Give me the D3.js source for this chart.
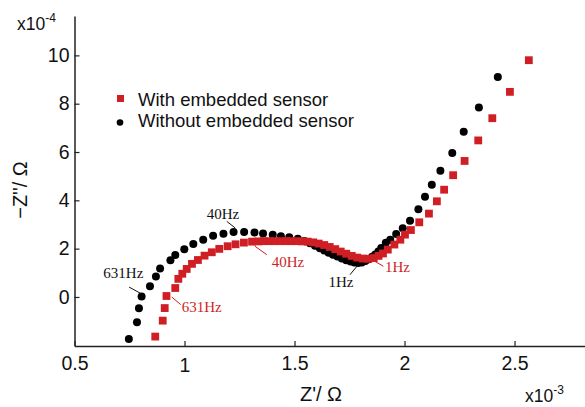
<!DOCTYPE html>
<html>
<head>
<meta charset="utf-8">
<script src="https://cdn.jsdelivr.net/npm/d3@7"></script>
<style>
  body { margin: 0; background: #fff; }
  svg { display: block; }
</style>
</head>
<body>
<svg id="chart" width="585" height="407"></svg>
<script>
// Z' in units of 1e-3 Ohm, -Z'' in units of 1e-4 Ohm
const withoutSensor = [
  [0.747,-1.74],[0.784,-1.05],[0.793,-0.47],[0.805,0.02],[0.843,0.44],[0.870,0.85],
  [0.889,1.18],[0.936,1.52],[0.958,1.74],[0.999,1.97],[1.040,2.19],[1.085,2.37],
  [1.130,2.53],[1.177,2.62],[1.223,2.69],[1.271,2.69],[1.318,2.67],[1.357,2.63],
  [1.401,2.57],[1.438,2.51],[1.476,2.47],[1.515,2.41],[1.545,2.32],[1.570,2.22],
  [1.593,2.12],[1.615,2.02],[1.635,1.92],[1.655,1.83],[1.675,1.75],[1.695,1.67],
  [1.715,1.59],[1.735,1.52],[1.755,1.47],[1.772,1.43],[1.789,1.41],[1.806,1.43],
  [1.822,1.49],[1.838,1.56],[1.853,1.66],[1.867,1.76],[1.881,1.88],[1.894,2.03],
  [1.915,2.24],[1.935,2.37],[1.962,2.61],[1.992,2.84],[2.025,3.15],[2.063,3.63],
  [2.093,4.15],[2.124,4.64],[2.163,5.22],[2.217,5.96],[2.269,6.84],[2.338,7.84],
  [2.424,9.11]
];
const withSensor = [
  [0.867,-1.64],[0.901,-0.98],[0.910,-0.46],[0.918,0.04],[0.958,0.37],[0.972,0.75],
  [0.990,0.96],[1.010,1.16],[1.034,1.37],[1.061,1.53],[1.091,1.71],[1.124,1.85],
  [1.158,1.99],[1.196,2.10],[1.232,2.18],[1.270,2.25],[1.307,2.29],[1.335,2.30],
  [1.360,2.31],[1.385,2.31],[1.410,2.31],[1.435,2.31],[1.460,2.31],[1.485,2.31],
  [1.510,2.31],[1.535,2.30],[1.560,2.29],[1.585,2.26],[1.610,2.21],[1.635,2.15],
  [1.660,2.07],[1.685,1.98],[1.710,1.88],[1.735,1.79],[1.760,1.70],[1.785,1.63],
  [1.810,1.59],[1.835,1.58],[1.860,1.61],[1.882,1.70],[1.902,1.80],[1.924,1.96],
  [1.954,2.17],[1.981,2.37],[2.002,2.58],[2.029,2.77],[2.067,3.09],[2.111,3.45],
  [2.147,3.96],[2.180,4.44],[2.221,5.04],[2.273,5.63],[2.335,6.48],[2.399,7.40],
  [2.479,8.49],[2.565,9.80]
];
const xTicks = [0.5, 1, 1.5, 2, 2.5];
const yTicks = [0, 2, 4, 6, 8, 10];
const seriesNames = ["With embedded sensor", "Without embedded sensor"];
// frequency annotations: label, series, text anchor (data units), leader line (data units)
const annotLabels = ["40Hz", "631Hz", "631Hz", "40Hz", "1Hz", "1Hz"];
const annotSeries = ["without", "without", "with", "with", "without", "with"];
const annotText = [[1.101,3.24],[0.631,0.77],[0.987,-0.61],[1.396,1.23],[1.654,0.40],[1.911,1.02]];
const annotLine = [
  [[1.192,3.13],[1.230,2.86]],
  [[0.748,0.41],[0.802,0.14]],
  [[0.942,0.00],[0.983,-0.32]],
  [[1.320,2.10],[1.374,1.75]],
  [[1.752,0.92],[1.790,1.34]],
  [[1.866,1.47],[1.904,1.27]]
];

const RED = "#cf1f25";
const BLACK = "#000";
const sans = "'Liberation Sans', Arial, Helvetica, sans-serif";
const serif = "'Liberation Serif', 'Times New Roman', serif";

const svg = d3.select("#chart");
const x = d3.scaleLinear().domain([0.5, 2.818]).range([74.5, 584.5]);
const y = d3.scaleLinear().domain([-2.03, 11.63]).range([346, 16]);

// axes
const xAxis = d3.axisBottom(x).tickValues(xTicks).tickSizeInner(-5).tickSizeOuter(0)
  .tickPadding(10).tickFormat(d3.format("~g"));
const yAxis = d3.axisLeft(y).tickValues(yTicks).tickSizeInner(-5).tickSizeOuter(0)
  .tickPadding(5).tickFormat(d3.format("~g"));

const gx = svg.append("g").attr("transform", `translate(0,${y.range()[0]})`).call(xAxis);
const gy = svg.append("g").attr("transform", `translate(${x.range()[0]},0)`).call(yAxis);
[gx, gy].forEach(g => {
  g.select(".domain").attr("stroke", "#222").attr("stroke-width", 1.5);
  g.selectAll(".tick line").attr("stroke", "#222").attr("stroke-width", 1.2);
  g.selectAll(".tick text").attr("font-family", sans).attr("font-size", 19.5).attr("fill", "#111");
});
gx.selectAll(".tick").filter(d => d === 1).select("text").attr("dy", "0.82em");

// exponent labels
const e4 = svg.append("text").attr("x", 17).attr("y", 30).attr("font-family", sans)
  .attr("font-size", 17.5).attr("fill", "#111");
e4.append("tspan").text("x10");
e4.append("tspan").attr("dy", -8).attr("font-size", 12).text("-4");

const e3 = svg.append("text").attr("x", 525).attr("y", 402).attr("font-family", sans)
  .attr("font-size", 17.5).attr("fill", "#111");
e3.append("tspan").text("x10");
e3.append("tspan").attr("dy", -8).attr("font-size", 12).text("-3");

// axis titles
svg.append("text").attr("x", 321).attr("y", 401).attr("text-anchor", "middle")
  .attr("font-family", sans).attr("font-size", 20).attr("fill", "#111").text("Z'/ Ω");
svg.append("text").attr("transform", "translate(27,190) rotate(-90)").attr("text-anchor", "middle")
  .attr("font-family", sans).attr("font-size", 20).attr("fill", "#111").text("−Z''/ Ω");

// data marks
const sq = 7.8;
svg.append("g").selectAll("circle").data(withoutSensor).join("circle")
  .attr("cx", d => x(d[0])).attr("cy", d => y(d[1])).attr("r", 4).attr("fill", BLACK);
svg.append("g").selectAll("rect").data(withSensor).join("rect")
  .attr("x", d => x(d[0]) - sq / 2).attr("y", d => y(d[1]) - sq / 2)
  .attr("width", sq).attr("height", sq).attr("fill", RED);

// annotations
const ann = svg.append("g");
annotLabels.forEach((lab, i) => {
  const col = annotSeries[i] === "with" ? RED : "#111";
  const L = annotLine[i];
  ann.append("line").attr("x1", x(L[0][0])).attr("y1", y(L[0][1]))
    .attr("x2", x(L[1][0])).attr("y2", y(L[1][1]))
    .attr("stroke", col).attr("stroke-width", 1);
  ann.append("text").attr("x", x(annotText[i][0])).attr("y", y(annotText[i][1]))
    .attr("font-family", serif).attr("font-size", 15).attr("fill", col).text(lab);
});

// legend
const leg = svg.append("g");
leg.append("rect").attr("x", 117).attr("y", 95).attr("width", 7).attr("height", 7).attr("fill", RED);
leg.append("text").attr("x", 138).attr("y", 106).attr("font-family", sans).attr("font-size", 18.5)
  .attr("fill", "#111").text(seriesNames[0]);
leg.append("circle").attr("cx", 120).attr("cy", 122.5).attr("r", 3.3).attr("fill", BLACK);
leg.append("text").attr("x", 138).attr("y", 127).attr("font-family", sans).attr("font-size", 18.5)
  .attr("fill", "#111").text(seriesNames[1]);
</script>
</body>
</html>
